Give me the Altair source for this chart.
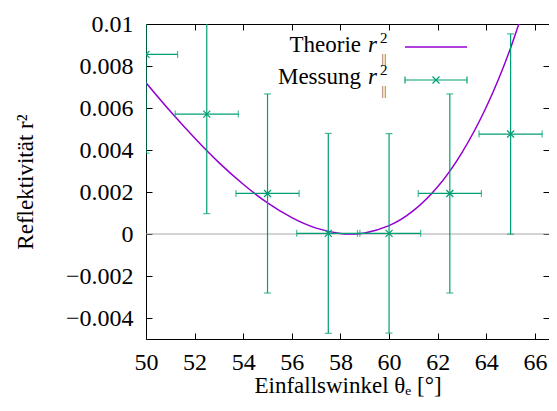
import altair as alt
import pandas as pd

FONT = "Liberation Serif, Times New Roman, DejaVu Serif, serif"
PURPLE = "#9400d3"
TEAL = "#009e73"

theta_meas = [50.0, 52.5, 55.0, 57.5, 60.0, 62.5, 65.0]
r2_meas = [0.00855, 0.00571, 0.00193, 0.00003, 0.00003, 0.00193, 0.00476]
r2_err = [0.00470, 0.00474, 0.00474, 0.00476, 0.00475, 0.00474, 0.00477]
theta_err = [1.3, 1.3, 1.3, 1.3, 1.3, 1.3, 1.3]

# --- theory curve ---
theta_theo = [50, 51, 52, 53, 54, 55, 56, 57, 58, 58.5, 59, 60, 61, 62, 63, 64, 65, 66]
r2_theo = [0.00720, 0.00584, 0.00457, 0.00340, 0.00237, 0.00148, 0.000778, 0.000281,
           0.0000261, 0.000001, 0.0000505, 0.000397, 0.00111, 0.00225, 0.00388,
           0.00605, 0.00886, 0.01238]

x_ticks = [50, 52, 54, 56, 58, 60, 62, 64, 66]
y_ticks = [-0.004, -0.002, 0, 0.002, 0.004, 0.006, 0.008, 0.01]
x_domain = [50, 66.58]
y_domain = [-0.005, 0.01]
legend_labels = ["Theorie", "Messung"]
x_title = "Einfallswinkel θₑ [°]"
y_title = "Reflektivität r²"

meas = pd.DataFrame({
    "theta": theta_meas,
    "r2": r2_meas,
    "ylo": [v - e for v, e in zip(r2_meas, r2_err)],
    "yhi": [v + e for v, e in zip(r2_meas, r2_err)],
    "xlo": [t - e for t, e in zip(theta_meas, theta_err)],
    "xhi": [t + e for t, e in zip(theta_meas, theta_err)],
})
theo = pd.DataFrame({"theta": theta_theo, "r2": r2_theo})
one = pd.DataFrame({"k": [0]})

W, H = 403, 315
xs = alt.Scale(domain=x_domain, nice=False, zero=False)
ys = alt.Scale(domain=y_domain, nice=False, zero=False)

common_axis = dict(offset=-6, tickSize=6, tickWidth=1, tickColor="black",
                   domain=False, grid=False, labelFont=FONT, labelFontSize=24,
                   labelColor="black", labelFlush=False, labelOverlap=False,
                   titleFont=FONT, titleFontSize=23, titleFontWeight="normal",
                   titleColor="black")

x_bottom = alt.Axis(orient="bottom", values=x_ticks, labelPadding=11,
                    title=x_title, titleY=59, titleBaseline="alphabetic",
                    **common_axis)
y_left = alt.Axis(orient="left", values=y_ticks, format="~g", labelPadding=13,
                  title=y_title, titleAngle=270, titleX=-120, titleY=H / 2,
                  titleAlign="center", titleBaseline="alphabetic", **common_axis)
x_top = alt.Axis(orient="top", values=x_ticks, labels=False, title=None,
                 **common_axis)
y_right = alt.Axis(orient="right", values=y_ticks, labels=False, title=None,
                   **common_axis)

X = lambda f, ax=None: alt.X(f, type="quantitative", scale=xs, axis=ax)
Y = lambda f, ax=None: alt.Y(f, type="quantitative", scale=ys, axis=ax)

zero_line = alt.Chart(one).mark_rule(color="#a8a8a8", strokeWidth=1).encode(
    y=alt.datum(0, scale=ys, axis=None))

theory = alt.Chart(theo).mark_line(color=PURPLE, strokeWidth=1.5, clip=True,
                                   interpolate="natural").encode(
    x=X("theta", x_bottom), y=Y("r2", y_left))

vbars = alt.Chart(meas).mark_rule(color=TEAL, strokeWidth=1.2, clip=True).encode(
    x=X("theta"), y=Y("ylo"), y2="yhi")
hbars = alt.Chart(meas).mark_rule(color=TEAL, strokeWidth=1.2, clip=True).encode(
    x=X("xlo"), x2="xhi", y=Y("r2"))
cap_lo = alt.Chart(meas).mark_tick(color=TEAL, orient="horizontal", size=7,
                                   thickness=1.2, clip=True).encode(x=X("theta"), y=Y("ylo"))
cap_hi = alt.Chart(meas).mark_tick(color=TEAL, orient="horizontal", size=7,
                                   thickness=1.2, clip=True).encode(x=X("theta"), y=Y("yhi"))
cap_l = alt.Chart(meas).mark_tick(color=TEAL, orient="vertical", size=7,
                                  thickness=1.2, clip=True).encode(x=X("xlo"), y=Y("r2"))
cap_r = alt.Chart(meas).mark_tick(color=TEAL, orient="vertical", size=7,
                                  thickness=1.2, clip=True).encode(x=X("xhi"), y=Y("r2"))
CROSS = "M-1,-1L1,1M-1,1L1,-1"
markers = alt.Chart(meas).mark_point(shape=CROSS, size=49, filled=False, color=TEAL,
                                     strokeWidth=1.2, opacity=1, clip=True).encode(
    x=X("theta"), y=Y("r2"))

mirror = alt.Chart(meas).mark_point(opacity=0).encode(
    x=X("theta", x_top), y=Y("r2", y_right))


def txt(text, x, y, size, align="left", style="normal", baseline="alphabetic",
        color="black"):
    return alt.Chart(one).mark_text(text=text, align=align, baseline=baseline,
                                    font=FONT, fontSize=size, fontStyle=style,
                                    color=color).encode(x=alt.value(x), y=alt.value(y))


legend = []
row_y = [28, 60]
for label, by in zip(legend_labels, row_y):
    legend.append(txt(label, 215, by, 23, align="right"))
    legend.append(txt("r", 222, by, 23, style="italic"))
    legend.append(txt("2", 234, by - 9, 15))
    legend.append(txt("||", 238, by + 7, 12, align="center", baseline="middle",
                      color="#333333"))

leg_line = alt.Chart(one).mark_rule(color=PURPLE, strokeWidth=1.5).encode(
    x=alt.value(259), x2=alt.value(321), y=alt.value(23))
leg_bar = alt.Chart(one).mark_rule(color=TEAL, strokeWidth=1.2).encode(
    x=alt.value(259), x2=alt.value(321), y=alt.value(56))
leg_c1 = alt.Chart(one).mark_rule(color=TEAL, strokeWidth=1.2).encode(
    x=alt.value(259), y=alt.value(52.5), y2=alt.value(59.5))
leg_c2 = alt.Chart(one).mark_rule(color=TEAL, strokeWidth=1.2).encode(
    x=alt.value(321), y=alt.value(52.5), y2=alt.value(59.5))
leg_mk = alt.Chart(one).mark_point(shape=CROSS, size=49, filled=False, color=TEAL,
                                   strokeWidth=1.2, opacity=1).encode(
    x=alt.value(290), y=alt.value(56))

chart = alt.layer(
    zero_line, theory, vbars, hbars, cap_lo, cap_hi, cap_l, cap_r, markers, mirror,
    *legend, leg_line, leg_bar, leg_c1, leg_c2, leg_mk
).resolve_axis(x="independent", y="independent").properties(
    width=W, height=H,
    autosize=alt.AutoSizeParams(type="none"),
    padding={"left": 138, "top": 16, "right": 0, "bottom": 61},
).configure_view(stroke="black", strokeWidth=1)

chart.save("out.html", embed_options={"renderer": "svg", "actions": False})
